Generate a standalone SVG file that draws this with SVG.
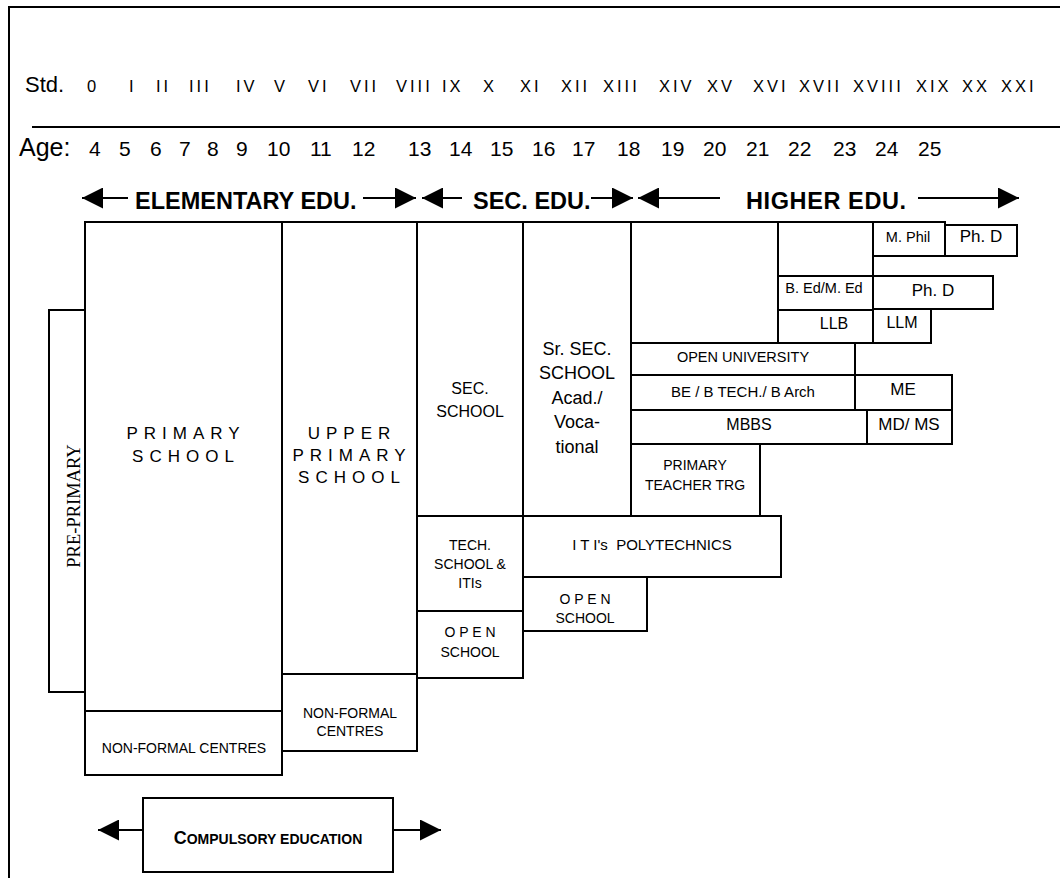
<svg xmlns="http://www.w3.org/2000/svg" width="1060" height="878" viewBox="0 0 1060 878">
<style>
.b{fill:none;stroke:#000;stroke-width:2}
.ln{stroke:#000;stroke-width:2;fill:none}
.ar{stroke:#000;stroke-width:2;fill:none;marker-end:url(#ah)}
text{font-family:"Liberation Sans",Arial,sans-serif;fill:#000}
.c{text-anchor:middle}
.std{font-size:16.5px;letter-spacing:3px}
.age{font-size:21px}
.hd{font-size:23.5px;font-weight:bold}
.sp{font-size:17px;letter-spacing:6px}
.s14{font-size:14px}
.s15{font-size:15px}
.s16{font-size:16px}
.s17{font-size:17px}
.s18{font-size:18px}
</style>
<defs>
<marker id="ah" markerUnits="userSpaceOnUse" markerWidth="21" markerHeight="21" viewBox="0 0 21 21" refX="21" refY="10.5" orient="auto"><path d="M0,0 L21,10.5 L0,21 z" fill="#000"/></marker>
</defs>
<rect x="0" y="0" width="1060" height="878" fill="#fff"/>
<g id="frame">
<path class="ln" d="M9,878 V7 H1060"/>
<line class="ln" x1="32" y1="127" x2="1060" y2="127"/>
</g>
<g id="std-row">
<text x="25" y="92" style="font-size:22px">Std.</text>
<text class="std" x="87" y="92">0</text>
<text class="std" x="129" y="92">I</text>
<text class="std" x="156" y="92">II</text>
<text class="std" x="189" y="92">III</text>
<text class="std" x="236" y="92">IV</text>
<text class="std" x="274" y="92">V</text>
<text class="std" x="308" y="92">VI</text>
<text class="std" x="350" y="92">VII</text>
<text class="std" x="396" y="92">VIII</text>
<text class="std" x="442" y="92">IX</text>
<text class="std" x="483" y="92">X</text>
<text class="std" x="520" y="92">XI</text>
<text class="std" x="561" y="92">XII</text>
<text class="std" x="603" y="92">XIII</text>
<text class="std" x="659" y="92">XIV</text>
<text class="std" x="707" y="92">XV</text>
<text class="std" x="753" y="92">XVI</text>
<text class="std" x="799" y="92">XVII</text>
<text class="std" x="853" y="92">XVIII</text>
<text class="std" x="916" y="92">XIX</text>
<text class="std" x="962" y="92">XX</text>
<text class="std" x="1001" y="92">XXI</text>
</g>
<g id="age-row">
<text x="19" y="156" style="font-size:25px">Age:</text>
<text class="age" x="89" y="156">4</text>
<text class="age" x="119" y="156">5</text>
<text class="age" x="150" y="156">6</text>
<text class="age" x="179" y="156">7</text>
<text class="age" x="207" y="156">8</text>
<text class="age" x="236" y="156">9</text>
<text class="age" x="267" y="156">10</text>
<text class="age" x="310" y="156">11</text>
<text class="age" x="352" y="156">12</text>
<text class="age" x="408" y="156">13</text>
<text class="age" x="449" y="156">14</text>
<text class="age" x="490" y="156">15</text>
<text class="age" x="532" y="156">16</text>
<text class="age" x="572" y="156">17</text>
<text class="age" x="617" y="156">18</text>
<text class="age" x="661" y="156">19</text>
<text class="age" x="703" y="156">20</text>
<text class="age" x="746" y="156">21</text>
<text class="age" x="788" y="156">22</text>
<text class="age" x="833" y="156">23</text>
<text class="age" x="875" y="156">24</text>
<text class="age" x="918" y="156">25</text>
</g>
<g id="stage-labels">
<text class="hd" x="135" y="209">ELEMENTARY EDU.</text>
<text class="hd" x="473" y="209">SEC. EDU.</text>
<text class="hd" x="746" y="209" style="letter-spacing:0.6px">HIGHER EDU.</text>
</g>
<g id="connectors">
<line class="ar" x1="128" y1="198" x2="82" y2="198"/>
<line class="ar" x1="363" y1="198" x2="416" y2="198"/>
<line class="ar" x1="462" y1="198" x2="422" y2="198"/>
<line class="ar" x1="591" y1="198" x2="633" y2="198"/>
<line class="ar" x1="720" y1="198" x2="638" y2="198"/>
<line class="ar" x1="918" y1="198" x2="1019" y2="198"/>
<line class="ar" x1="143" y1="830" x2="98" y2="830"/>
<line class="ar" x1="393" y1="830" x2="441" y2="830"/>
</g>
<g id="pre-primary">
<rect class="b" x="49" y="310" width="36" height="382"/>
<text class="c" transform="translate(80,506) rotate(-90)" style="font-family:'Liberation Serif','Times New Roman',serif;font-size:18.5px">PRE-PRIMARY</text>
</g>
<g id="primary-school">
<rect class="b" x="85" y="222" width="197" height="489"/>
<text class="c sp" x="186" y="439">PRIMARY</text>
<text class="c sp" x="186" y="462">SCHOOL</text>
</g>
<g id="non-formal-1">
<rect class="b" x="85" y="711" width="197" height="64"/>
<text class="c s14" x="184" y="753">NON-FORMAL CENTRES</text>
</g>
<g id="upper-primary">
<rect class="b" x="282" y="222" width="135" height="452"/>
<text class="c sp" x="352" y="439">UPPER</text>
<text class="c sp" x="352" y="461">PRIMARY</text>
<text class="c sp" x="352" y="483">SCHOOL</text>
</g>
<g id="non-formal-2">
<rect class="b" x="282" y="674" width="135" height="77"/>
<text class="c s14" x="350" y="718">NON-FORMAL</text>
<text class="c s14" x="350" y="736">CENTRES</text>
</g>
<g id="sec-school">
<rect class="b" x="417" y="222" width="106" height="294"/>
<text class="c s16" x="470" y="394">SEC.</text>
<text class="c s16" x="470" y="417">SCHOOL</text>
</g>
<g id="tech-school">
<rect class="b" x="417" y="516" width="106" height="95"/>
<text class="c s14" x="470" y="550">TECH.</text>
<text class="c s14" x="470" y="569">SCHOOL &amp;</text>
<text class="c s14" x="470" y="588">ITIs</text>
</g>
<g id="open-school-1">
<rect class="b" x="417" y="611" width="106" height="67"/>
<text class="c s14" x="470" y="637">O P E N</text>
<text class="c s14" x="470" y="657">SCHOOL</text>
</g>
<g id="sr-sec-school">
<rect class="b" x="523" y="222" width="108" height="294"/>
<text class="c s18" x="577" y="355">Sr. SEC.</text>
<text class="c s18" x="577" y="379">SCHOOL</text>
<text class="c s18" x="577" y="404">Acad./</text>
<text class="c s18" x="577" y="428">Voca-</text>
<text class="c s18" x="577" y="453">tional</text>
</g>
<g id="iti-polytechnics">
<rect class="b" x="523" y="516" width="258" height="61"/>
<text class="c s15" x="652" y="550" xml:space="preserve">I T I's  POLYTECHNICS</text>
</g>
<g id="open-school-2">
<rect class="b" x="523" y="577" width="124" height="54"/>
<text class="c s14" x="585" y="604">O P E N</text>
<text class="c s14" x="585" y="623">SCHOOL</text>
</g>
<g id="higher-block">
<rect class="b" x="631" y="222" width="147" height="121"/>
</g>
<g id="upper-empty">
<rect class="b" x="778" y="222" width="95" height="54"/>
</g>
<g id="bed-med">
<rect class="b" x="778" y="276" width="95" height="34"/>
<text class="c" x="824" y="293" style="font-size:14.5px">B. Ed/M. Ed</text>
</g>
<g id="llb">
<rect class="b" x="778" y="310" width="95" height="33"/>
<text class="c s16" x="834" y="329">LLB</text>
</g>
<g id="mphil">
<rect class="b" x="873" y="222" width="72" height="34"/>
<text class="c" x="908" y="242" style="font-size:14.5px">M. Phil</text>
</g>
<g id="phd-1">
<rect class="b" x="945" y="225" width="72" height="31"/>
<text class="c s17" x="981" y="242">Ph. D</text>
</g>
<g id="phd-2">
<rect class="b" x="873" y="276" width="120" height="33"/>
<text class="c s17" x="933" y="296">Ph. D</text>
</g>
<g id="llm">
<rect class="b" x="873" y="309" width="58" height="34"/>
<text class="c s16" x="902" y="328">LLM</text>
</g>
<g id="open-university">
<rect class="b" x="631" y="343" width="224" height="32"/>
<text class="c" x="743" y="362" style="font-size:14.5px">OPEN UNIVERSITY</text>
</g>
<g id="be-btech">
<rect class="b" x="631" y="375" width="224" height="35"/>
<text class="c s15" x="743" y="397">BE / B TECH./ B Arch</text>
</g>
<g id="me">
<rect class="b" x="855" y="375" width="97" height="35"/>
<text class="c s17" x="903" y="395">ME</text>
</g>
<g id="mbbs">
<rect class="b" x="631" y="410" width="236" height="34"/>
<text class="c s16" x="749" y="430">MBBS</text>
</g>
<g id="md-ms">
<rect class="b" x="867" y="410" width="85" height="34"/>
<text class="c s17" x="909" y="430">MD/ MS</text>
</g>
<g id="primary-teacher-trg">
<rect class="b" x="631" y="444" width="129" height="72"/>
<text class="c s14" x="695" y="470">PRIMARY</text>
<text class="c s14" x="695" y="490">TEACHER TRG</text>
</g>
<g id="compulsory-education">
<rect class="b" x="143" y="798" width="250" height="74"/>
<text class="c" x="268" y="844" style="font-weight:bold;font-size:14px"><tspan style="font-size:18px">C</tspan>OMPULSORY EDUCATION</text>
</g>
</svg>
